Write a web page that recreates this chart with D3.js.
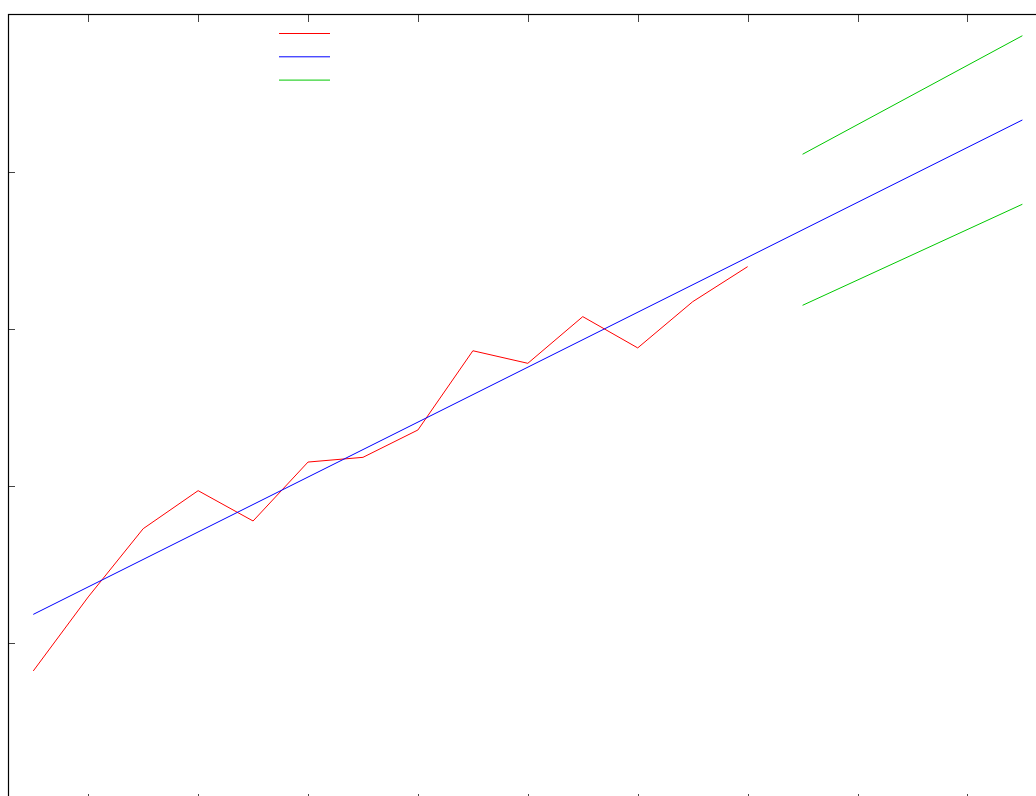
<!DOCTYPE html>
<html>
<head>
<meta charset="utf-8">
<script src="https://cdn.jsdelivr.net/npm/d3@7"></script>
<style>
  html, body { margin: 0; padding: 0; background: #fff; overflow: hidden; }
  svg { display: block; }
</style>
</head>
<body>
<svg id="chart" width="1036" height="796"></svg>
<script>
// Observed series (one value per period)
const observedX = [0, 1, 2, 3, 4, 5, 6, 7, 8, 9, 10, 11, 12, 13];
const observedY = [0.824, 1.295, 1.729, 1.971, 1.778, 2.153, 2.183, 2.357, 2.861, 2.781, 3.078, 2.879, 3.173, 3.396];

// Fitted linear trend, drawn across the observed and forecast range
const trendX = [0, 18];
const trendY = [1.184, 4.329];

// Forecast interval bounds
const bandX = [14, 18];
const bandUpper = [4.111, 4.865];
const bandLower = [3.150, 3.793];

// Tick positions
const xTicks = [1, 3, 5, 7, 9, 11, 13, 15, 17];
const yTicks = [1, 2, 3, 4];

// Legend entries (sample lines only)
const legendColors = ["#ff0000", "#0000ff", "#00c800"];

const svg = d3.select("#chart");

// Plot frame geometry
const plotLeft = 8, plotTop = 14.5;
const x = d3.scaleLinear().domain([-0.46, 18.5]).range([plotLeft, plotLeft + 18.96 * 54.95]);
const y = d3.scaleLinear().domain([0, 5]).range([800.5, plotTop]);

const frameW = x(18.5) - plotLeft;
const frameH = y(0) - plotTop;

// Axes with inward ticks and no labels
const tickLen = 7;
const axes = svg.append("g").attr("shape-rendering", "crispEdges");

axes.append("g")
  .attr("transform", `translate(0,${plotTop})`)
  .call(d3.axisTop(x).tickValues(xTicks).tickFormat("").tickSizeInner(-tickLen).tickSizeOuter(0));
axes.append("g")
  .attr("transform", `translate(0,${y(0)})`)
  .call(d3.axisBottom(x).tickValues(xTicks).tickFormat("").tickSizeInner(-tickLen).tickSizeOuter(0));
axes.append("g")
  .attr("transform", `translate(${plotLeft},0)`)
  .call(d3.axisLeft(y).tickValues(yTicks).tickFormat("").tickSizeInner(-tickLen).tickSizeOuter(0));

axes.selectAll(".tick line").attr("stroke", "#444").attr("stroke-width", 1);
axes.selectAll(".domain").remove();

// Border
svg.append("rect")
  .attr("x", plotLeft + 0.5)
  .attr("y", plotTop)
  .attr("width", frameW)
  .attr("height", frameH)
  .attr("fill", "none")
  .attr("stroke", "#000")
  .attr("stroke-width", 1.2);

const line = d3.line().x(d => x(d[0])).y(d => y(d[1]));

// Observed values
svg.append("path")
  .datum(observedX.map((v, i) => [v, observedY[i]]))
  .attr("d", line)
  .attr("fill", "none")
  .attr("stroke", "#ff0000")
  .attr("stroke-width", 1);

// Trend line
svg.append("path")
  .datum(trendX.map((v, i) => [v, trendY[i]]))
  .attr("d", line)
  .attr("fill", "none")
  .attr("stroke", "#0000ff")
  .attr("stroke-width", 1);

// Forecast bounds
[bandUpper, bandLower].forEach(b => {
  svg.append("path")
    .datum(bandX.map((v, i) => [v, b[i]]))
    .attr("d", line)
    .attr("fill", "none")
    .attr("stroke", "#00c800")
    .attr("stroke-width", 1);
});

// Legend samples
const legend = svg.append("g").attr("transform", "translate(279,33.5)");
legend.selectAll("line")
  .data(legendColors)
  .join("line")
  .attr("x1", 0)
  .attr("x2", 51)
  .attr("y1", (d, i) => i * 23.3)
  .attr("y2", (d, i) => i * 23.3)
  .attr("stroke", d => d)
  .attr("stroke-width", 1);
</script>
</body>
</html>
